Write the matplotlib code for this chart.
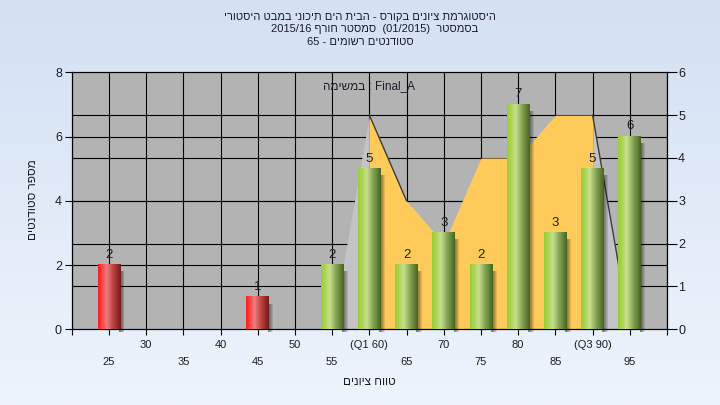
import re

import numpy as np
import matplotlib
matplotlib.use("Agg")
import matplotlib.pyplot as plt
from matplotlib.colors import LinearSegmentedColormap
from matplotlib.patches import Rectangle
from matplotlib.transforms import blended_transform_factory

plt.rcParams["font.family"] = ["Liberation Sans", "DejaVu Sans"]
plt.rcParams["font.size"] = 8

# ---- data -------------------------------------------------------------
grades = [25, 30, 35, 40, 45, 50, 55, 60, 65, 70, 75, 80, 85, 90, 95]
counts = [2, 0, 0, 0, 1, 0, 2, 5, 2, 3, 2, 7, 3, 5, 6]
tick_text = ["25", "30", "35", "40", "45", "50", "55", "(Q1 60)", "65",
             "70", "75", "80", "85", "(Q3 90)", "95"]
pass_mark = 55

area_x = [55, 60, 65, 70, 75, 80, 85, 90, 95]
area_y = [0, 5, 3, 2, 4, 4, 5, 5, 0]
q1, q3 = 60, 90

title_1 = "היסטוגרמת ציונים בקורס - הבית הים תיכוני במבט היסטורי"
title_2 = "בסמסטר  (01/2015)  סמסטר חורף 2015/16"
title_3 = "סטודנטים רשומים - 65"
task_text = "במשימה : Final_A"
xlabel = "טווח ציונים"
ylabel = "מספר סטודנטים"

INK = "#1c1c2c"
PLOT_BG = "#b3b3b3"
YELLOW = "#fecb5a"
LIGHT = "#c3c3c3"


def rtl(s):
    """visual order for a right-to-left line"""
    r = s[::-1]
    r = re.sub(r"[0-9A-Za-z_/.]+", lambda m: m.group(0)[::-1], r)
    return r.translate(str.maketrans("()", ")("))


def ltr(s):
    """visual order for a left-to-right line with hebrew runs"""
    return re.sub(r"[\u0590-\u05FF]+(?:\s+[\u0590-\u05FF]+)*",
                  lambda m: m.group(0)[::-1], s)


red_cm = LinearSegmentedColormap.from_list(
    "red", [(0, "#ff1e1e"), (0.14, "#ff3c3c"), (0.38, "#ec7e7e"),
            (0.65, "#bf4444"), (1, "#761818")])
green_cm = LinearSegmentedColormap.from_list(
    "green", [(0, "#9acd38"), (0.15, "#a9d34e"), (0.38, "#c7e08f"),
              (0.65, "#87a656"), (1, "#46661f")])

fig = plt.figure(figsize=(7.2, 4.05), dpi=100)

# background gradient
bg = fig.add_axes([0, 0, 1, 1], zorder=-10)
bg.imshow(np.linspace(0, 1, 256)[:, None], aspect="auto", extent=(0, 1, 0, 1),
          cmap=LinearSegmentedColormap.from_list("bg", ["#d3e1f3", "#eef4fc"]))
bg.axis("off")

rect = [71.7 / 720, 1 - 329.3 / 405, (667 - 71.7) / 720, (329.3 - 72.3) / 405]
axr = fig.add_axes(rect, zorder=1)   # right scale (area)
ax = fig.add_axes(rect, zorder=2)    # left scale (bars)
ax.patch.set_visible(False)

for a in (ax, axr):
    a.set_xlim(20, 100)
ax.set_ylim(0, 8)
axr.set_ylim(0, 6)
axr.set_facecolor(PLOT_BG)

# grid, under the area
for gx in range(20, 101, 5):
    axr.plot([gx, gx], [0, 6], color="black", lw=0.8, zorder=0.5)
for gy in range(1, 6):
    axr.plot([20, 100], [gy, gy], color="black", lw=0.8, zorder=0.5)
for gy in (2, 4, 6):
    axr.plot([20, 100], [gy, gy], color="black", lw=0.8, zorder=0.5,
             transform=ax.transData)

# area series on right scale
ax_arr = np.array(area_x)
ay_arr = np.array(area_y)
axr.fill_between(ax_arr, ay_arr, where=ax_arr <= q1, color=LIGHT, lw=0, zorder=1)
axr.fill_between(ax_arr, ay_arr, where=ax_arr >= q3, color=LIGHT, lw=0, zorder=1)
axr.fill_between(ax_arr, ay_arr, where=(ax_arr >= q1) & (ax_arr <= q3),
                 color=YELLOW, lw=0, zorder=1.2)
axr.plot(area_x[1:3], area_y[1:3], color="#3c3c3c", lw=1.0, zorder=1.5)
axr.plot(area_x[-2:], area_y[-2:], color="#3c3c3c", lw=1.0, zorder=1.5)

# bars with cylinder shading and soft shadow
bw = 3.05
grad = np.linspace(0, 1, 64)[None, :]
for g, c in zip(grades, counts):
    if c == 0:
        continue
    x0, x1 = g - bw / 2, g + bw / 2
    for k in range(5):
        ax.add_patch(Rectangle((x1 - 0.2, -0.08), 0.25 + 0.13 * k, c - 0.12,
                               facecolor="black", alpha=0.11, lw=0, zorder=2,
                               clip_on=False))
    ax.imshow(grad, extent=(x0, x1, 0, c), aspect="auto", zorder=3,
              cmap=red_cm if g < pass_mark else green_cm,
              interpolation="bilinear")
    ax.annotate(str(c), (g, c), xytext=(0, 3), textcoords="offset points",
                ha="center", va="bottom", fontsize=9.5, color=INK, zorder=4)

ax.set_xlim(20, 100)
ax.set_ylim(0, 8)

# axes styling
for a in (ax, axr):
    for s in a.spines.values():
        s.set_color("black")
        s.set_linewidth(0.8)
ax.set_yticks([0, 2, 4, 6, 8])
ax.tick_params(axis="y", direction="out", length=5, width=0.8,
               labelsize=9, labelcolor=INK, pad=2)
axr.yaxis.tick_right()
axr.set_yticks(range(0, 7))
axr.tick_params(axis="y", direction="out", length=7, width=0.8,
                labelsize=9, labelcolor=INK, pad=1)
ax.set_xticks(range(20, 101, 5))
ax.set_xticklabels([])
ax.tick_params(axis="x", direction="out", length=4, width=0.8)
axr.set_xticks([])

tb = blended_transform_factory(ax.transData, ax.transAxes)
for i, (g, t) in enumerate(zip(grades, tick_text)):
    y = -0.127 if i % 2 == 0 else -0.061
    ax.text(g, y, t, transform=tb, ha="center", va="center",
            fontsize=8, color=INK)

ax.text(0.5, -0.205, rtl(xlabel), transform=ax.transAxes, ha="center",
        va="center", fontsize=8.5, color=INK)
fig.text(33 / 720, 1 - 200 / 405, rtl(ylabel), rotation=90, ha="center",
         va="center", fontsize=8.5, color=INK)
ax.text(0.5, 0.947, ltr(task_text), transform=ax.transAxes, ha="center",
        va="center", fontsize=8.5, color=INK, zorder=5)

fig.text(0.5, 1 - 17 / 405, rtl(title_1), ha="center", va="center",
         fontsize=8, color=INK)
fig.text(375 / 720, 1 - 29.5 / 405, rtl(title_2), ha="center", va="center",
         fontsize=8, color=INK)
fig.text(0.5, 1 - 42 / 405, rtl(title_3), ha="center", va="center",
         fontsize=8, color=INK)

fig.savefig("out.png", dpi=100)
